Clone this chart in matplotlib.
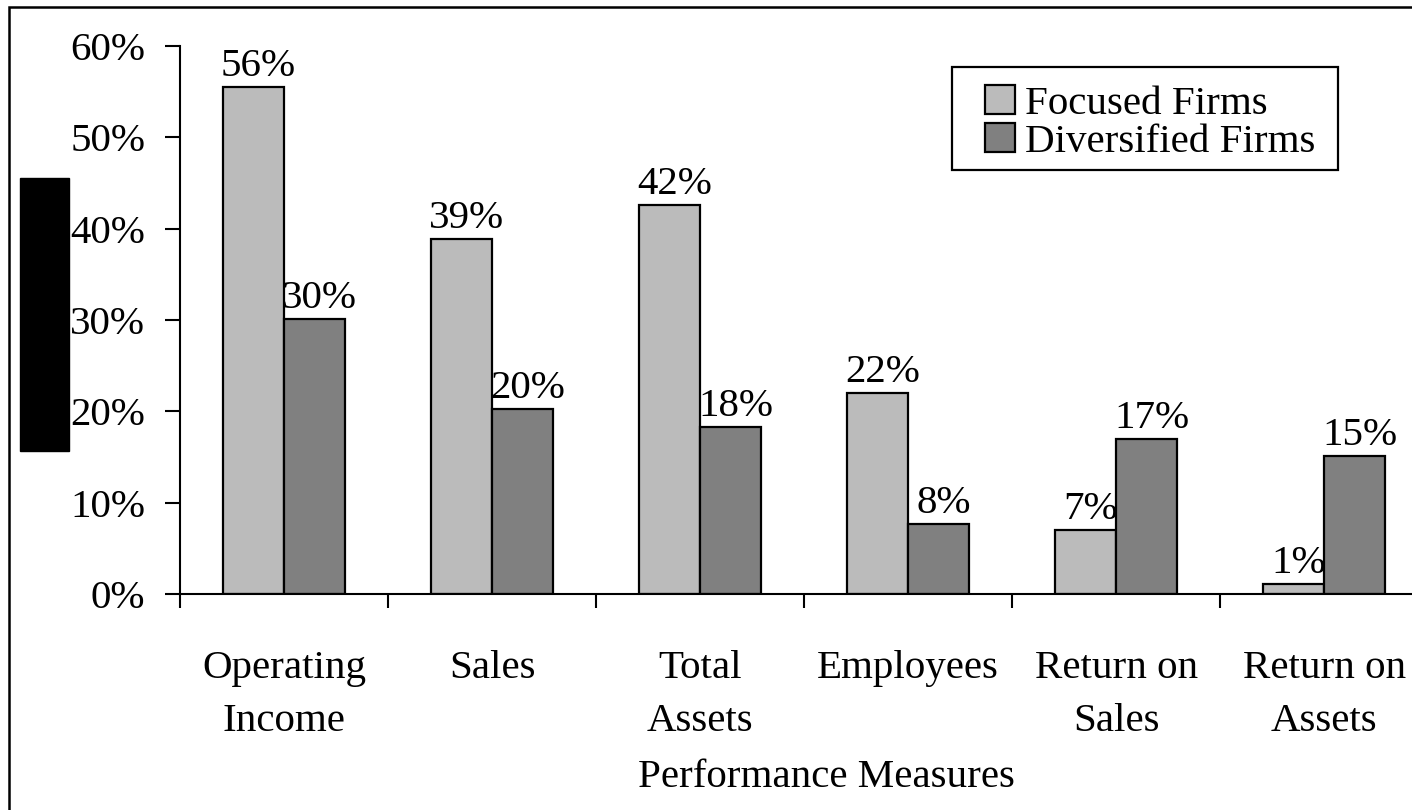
import matplotlib.pyplot as plt
import numpy as np
from matplotlib.patches import Rectangle

# data
measures = ['Operating\nIncome', 'Sales', 'Total\nAssets', 'Employees',
            'Return on\nSales', 'Return on\nAssets']
focused = [55.5, 38.9, 42.6, 22.0, 7.0, 1.1]
diversified = [30.1, 20.2, 18.3, 7.7, 17.0, 15.1]
focused_labels = ['56%', '39%', '42%', '22%', '7%', '1%']
diversified_labels = ['30%', '20%', '18%', '8%', '17%', '15%']
series_names = ['Focused Firms', 'Diversified Firms']
yticks = [0, 10, 20, 30, 40, 50, 60]

plt.rcParams['font.family'] = ['Liberation Serif', 'DejaVu Serif']
fs = 29.5

fig = plt.figure(figsize=(14.12, 8.10), dpi=100)
ax = fig.add_axes([0.1275, 0.2667, 0.8839, 0.6765])

x = np.arange(len(measures))
w = 0.295
b1 = ax.bar(x - w / 2, focused, w, color='#bbbbbb', edgecolor='black',
            linewidth=1.6, label=series_names[0])
b2 = ax.bar(x + w / 2, diversified, w, color='#808080', edgecolor='black',
            linewidth=1.6, label=series_names[1])

# value labels above bars
for bars, labs in ((b1, focused_labels), (b2, diversified_labels)):
    for rect, lab in zip(bars, labs):
        ax.annotate(lab, (rect.get_x() + rect.get_width() / 2, rect.get_height()),
                    xytext=(5, 11), textcoords='offset pixels',
                    ha='center', va='baseline', fontsize=fs)

ax.set_xlim(-0.5, len(measures) - 0.5)
ax.set_ylim(0, 60)
ax.set_yticks(yticks)
ax.set_yticklabels([f'{t}%' for t in yticks], fontsize=fs)
ax.tick_params(axis='y', direction='out', length=11, width=1.5, pad=14)

# category labels at centers, tick marks at boundaries
ax.set_xticks(x)
ax.set_xticklabels(measures, fontsize=fs, linespacing=1.6)
ax.tick_params(axis='x', which='major', length=0, pad=40)
ax.set_xticks(np.arange(len(measures) + 1) - 0.5, minor=True)
ax.tick_params(axis='x', which='minor', direction='out', length=10, width=1.5)

ax.set_xlabel('Performance Measures', fontsize=fs, labelpad=13.5, x=0.518)

for s in ('top', 'right'):
    ax.spines[s].set_visible(False)
for s in ('left', 'bottom'):
    ax.spines[s].set_linewidth(1.5)

# legend without its own frame, the box is drawn separately
leg = ax.legend(loc='upper left', bbox_to_anchor=(985 / 1412, 1 - 85 / 810),
                bbox_transform=fig.transFigure, borderaxespad=0, fontsize=fs,
                frameon=False, handlelength=0.72, handleheight=0.72,
                handletextpad=0.25, labelspacing=0.0, borderpad=0)
fig.patches.append(Rectangle((952 / 1412, 1 - 170 / 810), 386 / 1412, 103 / 810,
                             transform=fig.transFigure, fill=False,
                             edgecolor='black', linewidth=1.6))

# blacked-out block on the left and the outer frame
fig.patches.append(Rectangle((20 / 1412, 1 - 451 / 810), 49 / 1412, 273 / 810,
                             transform=fig.transFigure, color='black'))
fig.patches.append(Rectangle((9 / 1412, -0.1), 1.5, 1.1 - 7 / 810,
                             transform=fig.transFigure, fill=False,
                             edgecolor='black', linewidth=1.8))

fig.savefig('out.png', dpi=100)
